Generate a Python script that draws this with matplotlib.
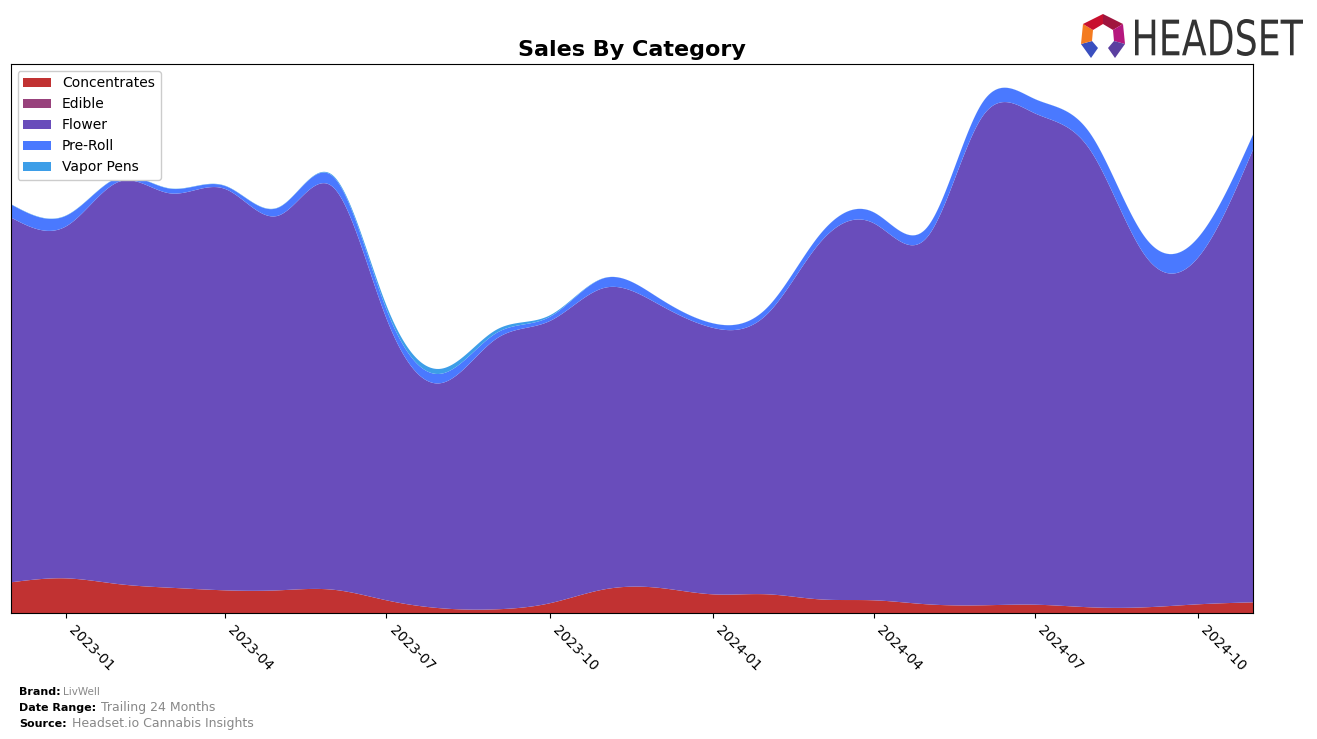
import numpy as np
import pandas as pd
import matplotlib
matplotlib.use("Agg")
import matplotlib.pyplot as plt
import matplotlib.dates as mdates
from matplotlib.textpath import TextPath
from matplotlib.patches import PathPatch, Polygon
from matplotlib.font_manager import FontProperties
from matplotlib.transforms import Affine2D

# monthly sales by category (arbitrary units)
months = pd.date_range("2022-12-01", "2024-11-01", freq="MS")
categories = ["Concentrates", "Edible", "Flower", "Pre-Roll", "Vapor Pens"]
concentrates = [31, 35, 29, 25.6, 23, 23, 23.6, 13, 5, 4, 10, 24,
                25.6, 19, 19, 14, 13, 9, 8, 8.6, 6, 6, 9, 11]
edible = [0] * 24
flower = [365.6, 352.3, 403.8, 395, 402, 375.3, 403, 282.3, 225.6, 271, 282.6, 302,
          284.4, 267, 281, 356, 377.6, 367.6, 489, 492, 458, 352.3, 347.6, 454]
pre_roll = [13.1, 10.7, 4.2, 4.7, 3.0, 8.0, 10.7, 9, 9.4, 5.7, 4.2, 9.8,
            6.5, 4.5, 6.5, 8.2, 10.9, 9.9, 13.9, 14.3, 16.6, 18.2, 19.9, 14.9]
vapor_pens = [0.3, 0.3, 0.3, 0.3, 0.3, 0.3, 1.0, 4, 5, 3.3, 1.5, 0.2,
              0.1, 0.1, 0.1, 0.1, 0.1, 0.1, 0.1, 0.1, 0.1, 0.1, 0.1, 0.1]
colors = ["#C13232", "#98427C", "#694DBB", "#4A79FF", "#3D9EE8"]


def natural_spline(x, y, xs):
    x = np.asarray(x, float)
    y = np.asarray(y, float)
    n = len(x)
    h = np.diff(x)
    A = np.zeros((n, n))
    r = np.zeros(n)
    A[0, 0] = A[-1, -1] = 1
    for i in range(1, n - 1):
        A[i, i - 1] = h[i - 1]
        A[i, i] = 2 * (h[i - 1] + h[i])
        A[i, i + 1] = h[i]
        r[i] = 3 * ((y[i + 1] - y[i]) / h[i] - (y[i] - y[i - 1]) / h[i - 1])
    c = np.linalg.solve(A, r)
    b = (y[1:] - y[:-1]) / h - h * (2 * c[:-1] + c[1:]) / 3
    d = (c[1:] - c[:-1]) / (3 * h)
    idx = np.clip(np.searchsorted(x, xs) - 1, 0, n - 2)
    dx = xs - x[idx]
    return y[idx] + b[idx] * dx + c[idx] * dx ** 2 + d[idx] * dx ** 3


xm = mdates.date2num(months)
xs = np.linspace(xm[0], xm[-1], 800)
series = [concentrates, edible, flower, pre_roll, vapor_pens]
smooth = [np.clip(natural_spline(xm, s, xs), 0, None) for s in series]

fig = plt.figure(figsize=(13.17, 7.39), dpi=100)
ax = fig.add_axes([0.00812, 0.1701, 0.9435, 0.7433])
ax.stackplot(xs, *smooth, labels=categories, colors=colors, linewidth=0)

total = np.sum(smooth, axis=0)
ax.set_xlim(xm[0], xm[-1])
ax.set_ylim(0, total.max() * 1.045)
ax.set_yticks([])
ax.xaxis.set_major_locator(mdates.MonthLocator(bymonth=[1, 4, 7, 10]))
ax.xaxis.set_major_formatter(mdates.DateFormatter("%Y-%m"))
for lab in ax.get_xticklabels():
    lab.set_rotation(-45)
    lab.set_ha("left")
    lab.set_va("top")
    lab.set_fontsize(10)

ax.set_title("Sales By Category", fontsize=16, fontweight="bold", pad=6)
leg = ax.legend(loc="upper left", fontsize=10, framealpha=1)

# footer
fig.text(0.0144, 0.0595, "Brand:", fontsize=8, fontweight="bold")
fig.text(0.048, 0.0595, "LivWell", fontsize=7.5, color="#888888")
fig.text(0.0144, 0.038, "Date Range:", fontsize=8, fontweight="bold")
fig.text(0.077, 0.038, "Trailing 24 Months", fontsize=9, color="#888888")
fig.text(0.0144, 0.0165, "Source:", fontsize=8, fontweight="bold")
fig.text(0.0545, 0.0165, "Headset.io Cannabis Insights", fontsize=9, color="#888888")

# HEADSET logo
fp = FontProperties(family="DejaVu Sans")
tp = TextPath((0, 0), "HEADSET", size=50, prop=fp)
bb = tp.get_extents()
sx = 168 / bb.width
sy = 37 / bb.height
tr = Affine2D().translate(-bb.x0, -bb.y0).scale(sx, sy).translate(1135, 739 - 56)
fig.patches.append(PathPatch(tp, transform=tr, facecolor="#333333", edgecolor="none"))

cx, cy = 1103, 739 - 36
outer = [(cx, cy + 22), (cx + 20, cy + 12), (cx + 22, cy - 8), (cx + 12, cy - 22),
         (cx - 12, cy - 22), (cx - 22, cy - 8), (cx - 20, cy + 12)]
inner = [(cx, cy + 12), (cx + 10, cy + 6), (cx + 11, cy - 5), (cx + 5, cy - 12),
         (cx - 5, cy - 12), (cx - 11, cy - 5), (cx - 10, cy + 6)]
seg_cols = ["#A0153E", "#B5177E", "#5B3FA0", None, "#3A4FBF", "#F47B20", "#C8102E"]
for i, col in enumerate(seg_cols):
    if col is None:
        continue
    j = (i + 1) % 7
    pts = [outer[i], outer[j], inner[j], inner[i]]
    fig.patches.append(Polygon(pts, closed=True, transform=None,
                               facecolor=col, edgecolor="none"))

fig.savefig("out.png", dpi=100)
